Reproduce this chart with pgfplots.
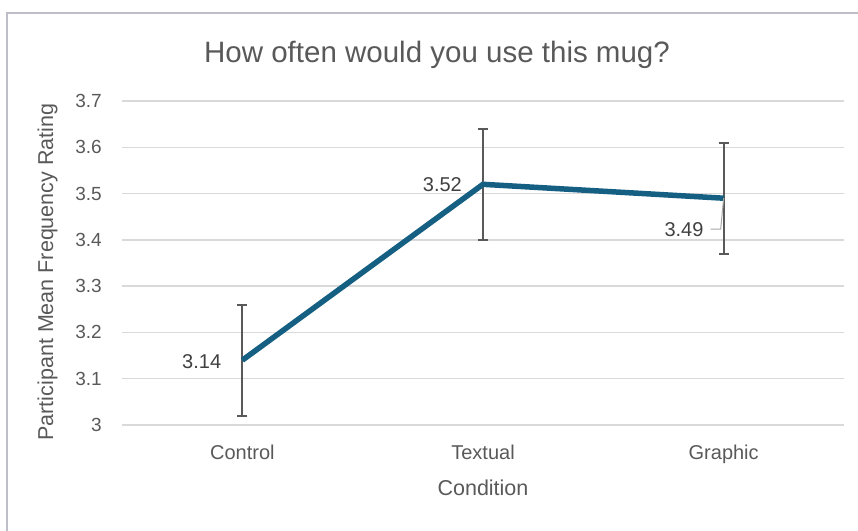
\documentclass[border=0pt]{standalone}
\usepackage{fontspec}
\setmainfont{Liberation Sans}
\usepackage{pgfplots}
\pgfplotsset{compat=1.18}
\definecolor{txt}{HTML}{595959}
\definecolor{lbl}{HTML}{404040}
\definecolor{gridc}{HTML}{D9D9D9}
\definecolor{linec}{HTML}{156082}
\definecolor{framec}{RGB}{190,190,200}
\begin{document}
\begin{tikzpicture}
\path[use as bounding box] (0pt,0pt) rectangle (858pt,530pt);
\draw[framec, line width=2pt] (7pt,-10pt) -- (7pt,517pt) -- (880pt,517pt);
\begin{axis}[
  at={(122pt,105pt)}, anchor=south west, scale only axis,
  width=722pt, height=324pt,
  xmin=-0.5, xmax=2.5, ymin=3, ymax=3.7,
  xtick={0,1,2}, xticklabels={Control,Textual,Graphic},
  ytick={3,3.1,3.2,3.3,3.4,3.5,3.6,3.7},
  yticklabels={3,3.1,3.2,3.3,3.4,3.5,3.6,3.7},
  ymajorgrids, major grid style={gridc, line width=1.5pt},
  axis line style={draw=none},
  major tick length=0pt, tick style={draw=none},
  yticklabel style={font=\fontsize{19}{21}\selectfont, text=txt, anchor=east, inner sep=0pt, xshift=-20pt},
  xticklabel style={font=\fontsize{20}{22}\selectfont, text=txt, anchor=north, inner sep=0pt, yshift=-20pt},
  clip=false,
]
\addplot[forget plot, draw=none, mark=none,
  error bars/.cd, y dir=both, y explicit,
  error bar style={draw=txt, line width=2pt},
  error mark options={draw=txt, line width=2pt, mark size=5pt, rotate=90}]
  coordinates {(0,3.14) +- (0,0.12) (1,3.52) +- (0,0.12) (2,3.49) +- (0,0.12)};
\addplot[linec, line width=5.5pt, mark=none] coordinates {(0,3.14) (1,3.52) (2,3.49)};
\draw[gray!70, line width=1pt] ([xshift=-13pt,yshift=-31pt]axis cs:2,3.49) -- ([xshift=-3pt,yshift=-31pt]axis cs:2,3.49) -- (axis cs:2,3.49);
\node[anchor=base east, text=lbl, inner sep=0pt, font=\fontsize{20}{22}\selectfont, xshift=-21pt, yshift=-8pt] at (axis cs:0,3.14) {3.14};
\node[anchor=base east, text=lbl, inner sep=0pt, font=\fontsize{20}{22}\selectfont, xshift=-21pt, yshift=-7pt] at (axis cs:1,3.52) {3.52};
\node[anchor=base east, text=lbl, inner sep=0pt, font=\fontsize{20}{22}\selectfont, xshift=-20pt, yshift=-38pt] at (axis cs:2,3.49) {3.49};
\end{axis}
\node[anchor=base, text=txt, inner sep=0pt, font=\fontsize{29.5}{33}\selectfont] at (437pt,467pt) {How often would you use this mug?};
\node[anchor=base, rotate=90, text=txt, inner sep=0pt, font=\fontsize{21.5}{25}\selectfont] at (53pt,258pt) {Participant Mean Frequency Rating};
\node[anchor=base, text=txt, inner sep=0pt, font=\fontsize{21.5}{25}\selectfont] at (483pt,35pt) {Condition};
\end{tikzpicture}
\end{document}
